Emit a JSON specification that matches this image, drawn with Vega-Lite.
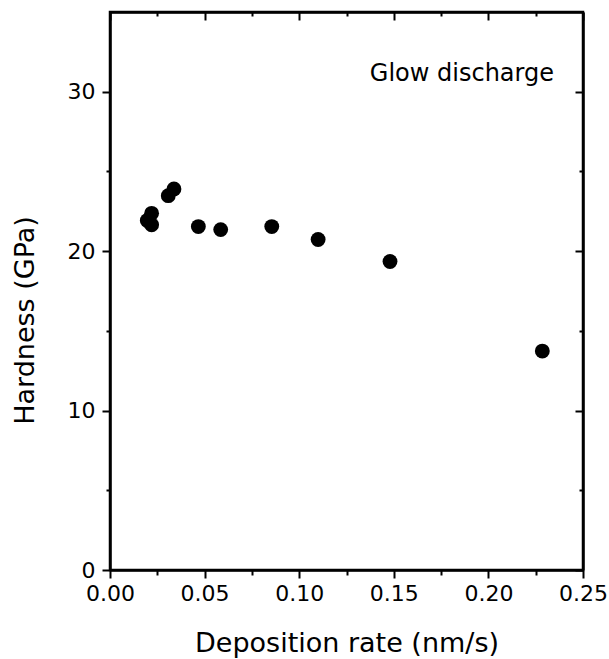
{
  "$schema": "https://vega.github.io/schema/vega-lite/v6.json",
  "width": 473,
  "height": 558,
  "autosize": "none",
  "padding": {"left": 110, "top": 12, "right": 26, "bottom": 89},
  "background": "white",
  "config": {
    "view": {"stroke": "black", "strokeWidth": 2.5},
    "font": "DejaVu Sans",
    "axis": {
      "domainColor": "black",
      "domainWidth": 2.5,
      "tickColor": "black",
      "tickWidth": 2,
      "grid": false,
      "labelColor": "black",
      "titleColor": "black",
      "labelFont": "DejaVu Sans",
      "titleFont": "DejaVu Sans",
      "labelFontSize": 22,
      "titleFontSize": 27,
      "titleFontWeight": "normal"
    }
  },
  "datasets": {
    "pts": [
      {"rate": 0.0197, "hardness": 21.92},
      {"rate": 0.0220, "hardness": 22.37},
      {"rate": 0.0220, "hardness": 21.65},
      {"rate": 0.0308, "hardness": 23.48},
      {"rate": 0.0338, "hardness": 23.9},
      {"rate": 0.0467, "hardness": 21.54},
      {"rate": 0.0585, "hardness": 21.35},
      {"rate": 0.0855, "hardness": 21.54},
      {"rate": 0.1100, "hardness": 20.73},
      {"rate": 0.1480, "hardness": 19.35},
      {"rate": 0.2285, "hardness": 13.73}
    ],
    "lbl": [{"rate": 0.186, "hardness": 30.68, "text": "Glow discharge"}]
  },
  "layer": [
    {
      "data": {"name": "pts"},
      "mark": {"type": "point", "filled": true, "shape": "circle", "size": 220, "color": "black", "opacity": 1},
      "encoding": {
        "x": {
          "field": "rate", "type": "quantitative",
          "scale": {"domain": [0, 0.25], "nice": false, "zero": false},
          "axis": {
            "orient": "bottom",
            "title": "Deposition rate (nm/s)",
            "values": [0, 0.025, 0.05, 0.075, 0.1, 0.125, 0.15, 0.175, 0.2, 0.225, 0.25],
            "format": ".2f",
            "labelExpr": "abs(datum.value*20 - round(datum.value*20)) < 0.001 ? datum.label : ''",
            "tickSize": {"condition": {"test": "abs(datum.value*20 - round(datum.value*20)) < 0.001", "value": 8}, "value": 5},
            "labelPadding": 5,
            "titleY": 81,
            "titleBaseline": "alphabetic",
            "labelFlush": false,
            "labelOverlap": false
          }
        },
        "y": {
          "field": "hardness", "type": "quantitative",
          "scale": {"domain": [0, 35], "nice": false},
          "axis": {
            "orient": "left",
            "title": "Hardness (GPa)",
            "values": [0, 5, 10, 15, 20, 25, 30],
            "labelExpr": "datum.value % 10 == 0 ? datum.label : ''",
            "tickSize": {"condition": {"test": "datum.value % 10 == 0", "value": 8}, "value": 4},
            "labelPadding": 7,
            "titleAngle": -90,
            "titleX": -77,
            "titleY": 308,
            "titleAlign": "center",
            "titleBaseline": "alphabetic",
            "labelFlush": false,
            "labelOverlap": false
          }
        }
      }
    },
    {
      "data": {"name": "lbl"},
      "mark": {"type": "text", "fontSize": 24, "color": "black", "font": "DejaVu Sans", "align": "center", "baseline": "alphabetic"},
      "encoding": {
        "x": {
          "field": "rate", "type": "quantitative",
          "axis": {
            "orient": "top", "title": null, "labels": false,
            "values": [0, 0.025, 0.05, 0.075, 0.1, 0.125, 0.15, 0.175, 0.2, 0.225, 0.25],
            "tickSize": {"condition": {"test": "abs(datum.value*20 - round(datum.value*20)) < 0.001", "value": -8}, "value": -4}
          }
        },
        "y": {
          "field": "hardness", "type": "quantitative",
          "axis": {
            "orient": "right", "title": null, "labels": false,
            "values": [0, 5, 10, 15, 20, 25, 30],
            "tickSize": {"condition": {"test": "datum.value % 10 == 0", "value": -8}, "value": -4}
          }
        },
        "text": {"field": "text"}
      }
    }
  ],
  "resolve": {"axis": {"x": "independent", "y": "independent"}}
}
